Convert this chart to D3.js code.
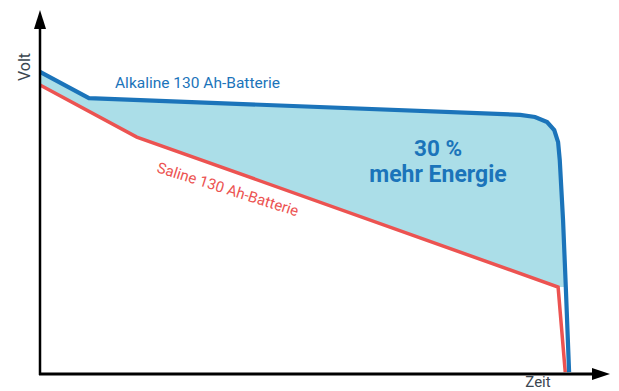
<!DOCTYPE html>
<html><head><meta charset="utf-8">
<script src="https://cdn.jsdelivr.net/npm/d3@7"></script>
<style>body{margin:0;background:#fff}svg{display:block}</style>
</head><body><svg id="c" width="619" height="391"></svg>
<script>
// Time (relative units) and voltage (relative units)
const alkalineTime = [0, 8.9, 87.3, 90.0, 92.2, 93.5, 94.2, 94.5, 95.1, 95.6, 96.2];
const alkalineVolt = [83.0, 75.8, 71.2, 70.6, 69.2, 67.0, 63.7, 58.8, 42.3, 23.9, 0.5];
const salineTime = [0, 17.6, 94.2, 95.5];
const salineVolt = [79.4, 65.1, 23.9, 0.5];
const labels = {alk: "Alkaline 130 Ah-Batterie", sal: "Saline 130 Ah-Batterie", pct: "30 %", more: "mehr Energie", y: "Volt", x: "Zeit"};

const svg = d3.select("#c");
const x = d3.scaleLinear().domain([0, 100]).range([40, 590]);
const y = d3.scaleLinear().domain([0, 100]).range([374, 10]);
const FONT = "'Roboto','Liberation Sans',sans-serif";
const BLUE = "#1b74ba", RED = "#ec5351", FILL = "#abdee8", AX = "#000", GREY = "#3b4650";

const alk = alkalineTime.map((t, i) => [t, alkalineVolt[i]]);
const sal = salineTime.map((t, i) => [t, salineVolt[i]]);

// fill between: alkaline down to saline knee level, then saline back
const knee = sal[2];
const alkTop = alk.filter(d => d[1] >= knee[1]);
const poly = alkTop.concat(sal.slice(0, 3).reverse());
svg.append("path").attr("d", d3.line().x(d => x(d[0])).y(d => y(d[1]))(poly) + "Z")
  .attr("fill", FILL);

const line = d3.line().x(d => x(d[0])).y(d => y(d[1]));
svg.append("path").attr("d", line(sal)).attr("fill", "none").attr("stroke", RED).attr("stroke-width", 3.5);
svg.append("path").attr("d", line(alk)).attr("fill", "none").attr("stroke", BLUE).attr("stroke-width", 4.2);

// axes
svg.append("line").attr("x1", x(0)).attr("x2", x(0)).attr("y1", y(0) + 1).attr("y2", 26).attr("stroke", AX).attr("stroke-width", 2.5);
svg.append("path").attr("d", `M${x(0)},10 L${x(0) - 6},29 L${x(0) + 6},29 Z`).attr("fill", AX);
svg.append("line").attr("x1", x(0) - 1).attr("x2", 596).attr("y1", y(0)).attr("y2", y(0)).attr("stroke", AX).attr("stroke-width", 3);
svg.append("path").attr("d", `M610,${y(0)} L592,${y(0) - 6} L592,${y(0) + 6} Z`).attr("fill", AX);

// texts
svg.append("text").attr("x", 115).attr("y", 88).attr("fill", BLUE).attr("font-family", FONT).attr("font-size", 15.5).text(labels.alk);
svg.append("text").attr("transform", "translate(156,172) rotate(17.5)").attr("fill", RED).attr("font-family", FONT).attr("font-size", 15).text(labels.sal);
svg.append("text").attr("x", 438).attr("y", 156).attr("text-anchor", "middle").attr("fill", BLUE).attr("font-family", FONT).attr("font-weight", "bold").attr("font-size", 22.5).text(labels.pct);
svg.append("text").attr("x", 438).attr("y", 182).attr("text-anchor", "middle").attr("fill", BLUE).attr("font-family", FONT).attr("font-weight", "bold").attr("font-size", 23).text(labels.more);
svg.append("text").attr("transform", "translate(30,67) rotate(-90)").attr("text-anchor", "middle").attr("fill", GREY).attr("font-family", FONT).attr("font-size", 16).text(labels.y);
svg.append("text").attr("x", 538).attr("y", 387).attr("text-anchor", "middle").attr("fill", GREY).attr("font-family", FONT).attr("font-size", 15).text(labels.x);
</script></body></html>
